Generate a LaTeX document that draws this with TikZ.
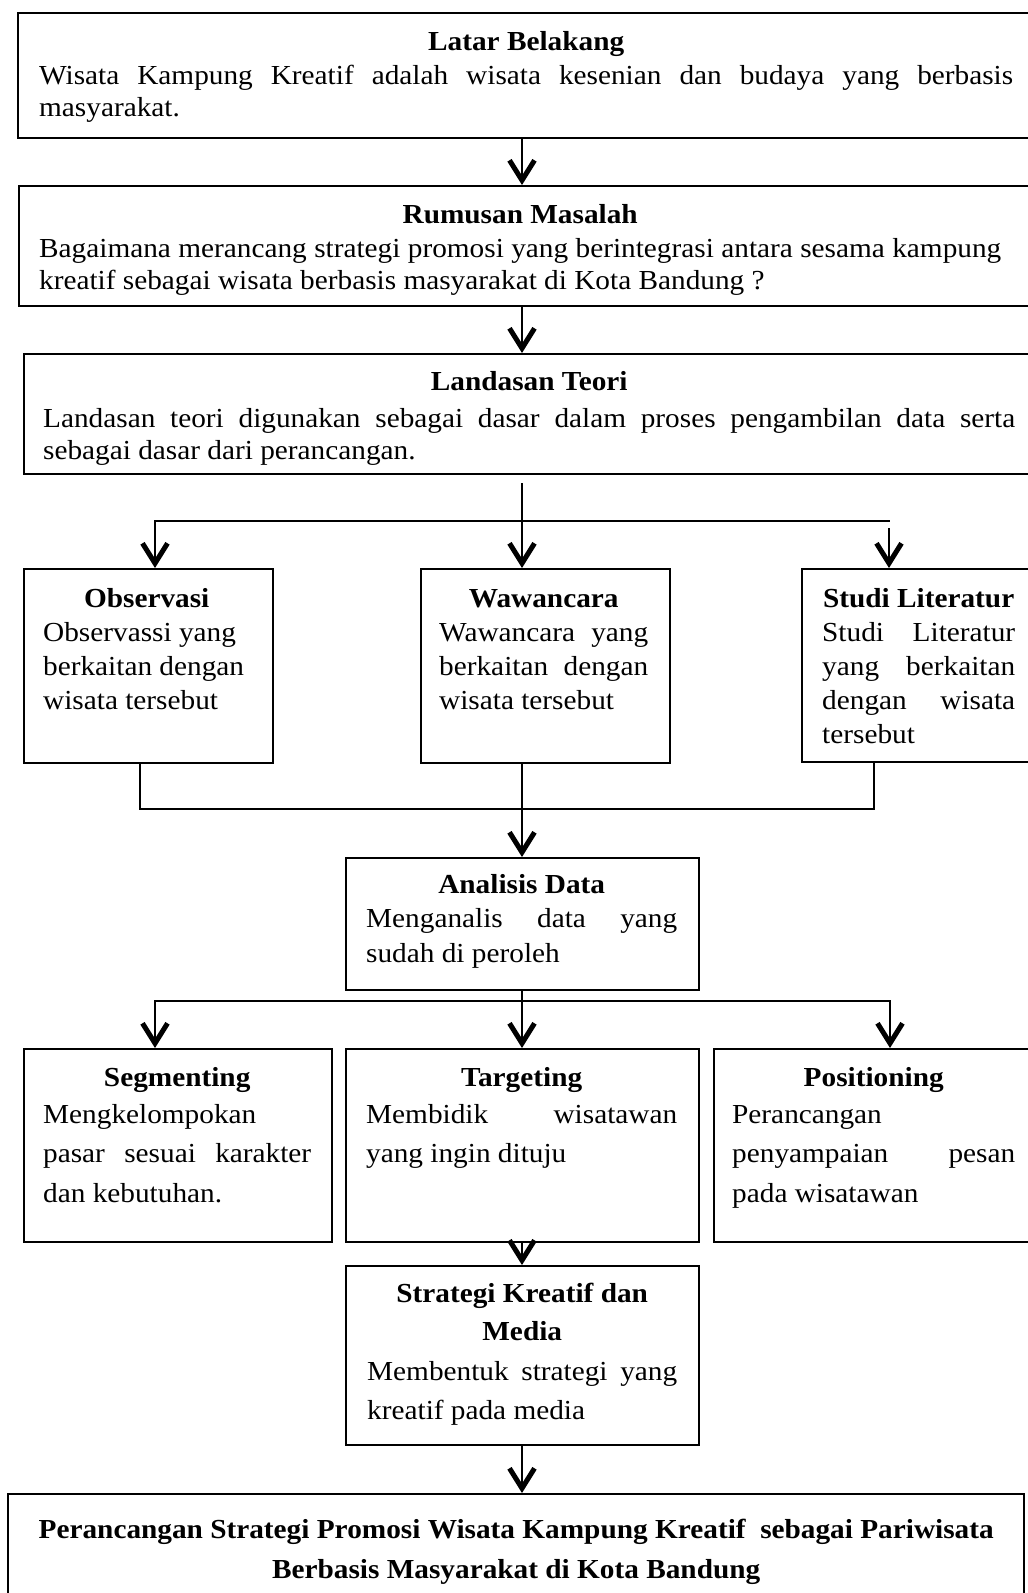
\documentclass[tikz,border=0pt]{standalone}
\usepackage{fontspec}
\setmainfont[FakeStretch=1.065]{Liberation Serif}
\usetikzlibrary{arrows.meta,calc}
\newcommand{\jline}[1]{\makebox[\linewidth][s]{#1}}
\newcommand{\tline}[1]{\makebox[\linewidth][c]{\bfseries #1}}
\begin{document}
\begin{tikzpicture}[x=1pt,y=1pt,
  box/.style={draw,line width=2.2pt,rectangle,inner sep=0pt,anchor=north west},
  txt/.style={inner sep=0pt,anchor=base west,align=flush left},
  conn/.style={line width=2.2pt},
  >={Straight Barb[length=20pt,width=25pt,line width=5pt]}]
\useasboundingbox (0,0) rectangle (1028,-1593);
\clip (0,0) rectangle (1028,-1593);
\fill[white] (0,0) rectangle (1028,-1593);

% boxes
\node[box,minimum width=1018pt,minimum height=125pt] (latar) at (17,-12) {};
\node[box,minimum width=1017pt,minimum height=120pt] (rumusan) at (18,-185) {};
\node[box,minimum width=1012pt,minimum height=120pt] (landasan) at (23,-353) {};
\node[box,minimum width=249pt,minimum height=194pt] (obs) at (23,-568) {};
\node[box,minimum width=249pt,minimum height=194pt] (waw) at (420,-568) {};
\node[box,minimum width=234pt,minimum height=193pt] (studi) at (801,-568) {};
\node[box,minimum width=353pt,minimum height=132pt] (anal) at (345,-857) {};
\node[box,minimum width=308pt,minimum height=193pt] (seg) at (23,-1048) {};
\node[box,minimum width=353pt,minimum height=193pt] (tar) at (345,-1048) {};
\node[box,minimum width=322pt,minimum height=193pt] (pos) at (713,-1048) {};
\node[box,minimum width=353pt,minimum height=179pt] (strat) at (345,-1265) {};
\node[box,minimum width=1016pt,minimum height=130pt] (final) at (7,-1493) {};

% texts
\node[txt,text width=974pt,font=\fontsize{27.5}{32}\selectfont] (latarT) at (39,-50)
 {\tline{Latar Belakang}\\[2pt]\jline{Wisata Kampung Kreatif adalah wisata kesenian dan budaya yang berbasis}\\masyarakat.};
\node[txt,text width=962pt,font=\fontsize{27.5}{32}\selectfont] (rumusanT) at (39,-223)
 {\tline{Rumusan Masalah}\\[2pt]\jline{Bagaimana merancang strategi promosi yang berintegrasi antara sesama kampung}\\kreatif sebagai wisata berbasis masyarakat di Kota Bandung ?};
\node[txt,text width=972pt,font=\fontsize{27.5}{32}\selectfont] (landasanT) at (43,-390)
 {\tline{Landasan Teori}\\[5pt]\jline{Landasan teori digunakan sebagai dasar dalam proses pengambilan data serta}\\sebagai dasar dari perancangan.};
\node[txt,text width=207pt,font=\fontsize{27.5}{34}\selectfont] (obsT) at (43,-607)
 {\tline{Observasi}\\Observassi yang\\berkaitan dengan\\wisata tersebut};
\node[txt,text width=209pt,font=\fontsize{27.5}{34}\selectfont] (wawT) at (439,-607)
 {\tline{Wawancara}\\\jline{Wawancara yang}\\\jline{berkaitan dengan}\\wisata tersebut};
\node[txt,text width=193pt,font=\fontsize{27.5}{34}\selectfont] (studiT) at (822,-607)
 {\tline{Studi Literatur}\\\jline{Studi Literatur}\\\jline{yang berkaitan}\\\jline{dengan wisata}\\tersebut};
\node[txt,text width=311pt,font=\fontsize{27.5}{34.5}\selectfont] (analT) at (366,-893)
 {\tline{Analisis Data}\\\jline{Menganalis data yang}\\sudah di peroleh};
\node[txt,text width=268pt,font=\fontsize{27.5}{39.5}\selectfont] (segT) at (43,-1086)
 {\tline{Segmenting}\\[-2.5pt]Mengkelompokan\\\jline{pasar sesuai karakter}\\dan kebutuhan.};
\node[txt,text width=311pt,font=\fontsize{27.5}{39.5}\selectfont] (tarT) at (366,-1086)
 {\tline{Targeting}\\[-2.5pt]\jline{Membidik wisatawan}\\yang ingin dituju};
\node[txt,text width=283pt,font=\fontsize{27.5}{39.5}\selectfont] (posT) at (732,-1086)
 {\tline{Positioning}\\[-2.5pt]Perancangan\\\jline{penyampaian pesan}\\pada wisatawan};
\node[txt,text width=310pt,font=\fontsize{27.5}{39}\selectfont] (stratT) at (367,-1302)
 {\tline{Strategi Kreatif dan}\\[-1pt]\tline{Media}\\[1pt]\jline{Membentuk strategi yang}\\kreatif pada media};
\node[txt,text width=958pt,font=\fontsize{27.5}{40}\selectfont] (finalT) at (37,-1538)
 {\tline{Perancangan Strategi Promosi Wisata Kampung Kreatif\ \ sebagai Pariwisata}\\\tline{Berbasis Masyarakat di Kota Bandung}};

% helper coordinates
\coordinate (mx) at (522,0);
\coordinate (cL) at (155,0);
\coordinate (cR) at (890,0);
\coordinate (cBL) at (140,0);
\coordinate (cBR) at (874,0);
\coordinate (jy) at (0,-521);
\coordinate (jy2) at (0,-809);
\coordinate (jy3) at (0,-1001);

% connectors
\draw[conn,->] (latar.south -| mx) -- (rumusan.north -| mx);
\draw[conn,->] (rumusan.south -| mx) -- (landasan.north -| mx);
\draw[conn,->] ($(landasan.south -| mx)+(0,-8)$) -- (waw.north -| mx);
\draw[conn,<-] (obs.north -| cL) -- (cL |- jy) -- (cR |- jy);
\draw[conn,->] ($(cR |- jy)+(-1,-7)$) -- ($(studi.north -| cR)+(-1,0)$);
\draw[conn] (obs.south -| cBL) -- (cBL |- jy2) -- (cBR |- jy2) -- (studi.south -| cBR);
\draw[conn,->] (waw.south -| mx) -- (anal.north -| mx);
\draw[conn,->] (anal.south -| mx) -- (tar.north -| mx);
\draw[conn,<->] (seg.north -| cL) -- (cL |- jy3) -- (cR |- jy3) -- (pos.north -| cR);
\draw[conn,->] (tar.south -| mx) -- (strat.north -| mx);
\draw[conn,->] (strat.south -| mx) -- (final.north -| mx);
\end{tikzpicture}
\end{document}
